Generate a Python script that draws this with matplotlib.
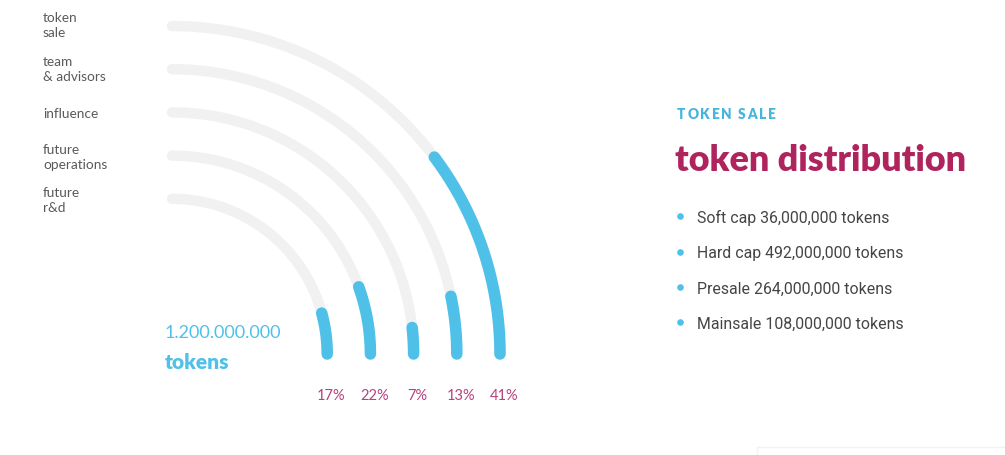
import numpy as np
import matplotlib
matplotlib.use("Agg")
import matplotlib.pyplot as plt

# ---- data ----
categories = ["token\nsale", "team\n& advisors", "influence", "future\noperations", "future\nr&d"]
percentages = [41, 13, 7, 22, 17]          # outer -> inner
total_supply = "1.200.000.000"
total_unit = "tokens"
heading_small = "TOKEN SALE"
heading_big = "token distribution"
bullets = ["Soft cap 36,000,000 tokens",
           "Hard cap 492,000,000 tokens",
           "Presale 264,000,000 tokens",
           "Mainsale 108,000,000 tokens"]

# ---- style ----
BLUE = "#4fc1e9"
GRAY = "#f1f1f1"
MAGENTA = "#b0245e"
PCT_COL = "#b8407e"
LABEL_COL = "#5a5a5a"
TEXT_COL = "#454545"

W, H = 1005, 456
fig = plt.figure(figsize=(W / 100, H / 100), dpi=100)
ax = fig.add_axes([0, 0, 1, 1])
ax.set_xlim(0, W)
ax.set_ylim(H, 0)
ax.axis("off")

cx, cy = 172, 355
r_outer, step = 328, 43.2
radii = [r_outer - i * step for i in range(len(percentages))]

for r, p in zip(radii, percentages):
    th = np.linspace(0, np.pi / 2, 200)
    ax.plot(cx + r * np.cos(th), cy - r * np.sin(th), color=GRAY, lw=7.5,
            solid_capstyle="round", zorder=1)
    tb = np.linspace(0, np.pi / 2 * p / 100, 100)
    ax.plot(cx + r * np.cos(tb), cy - r * np.sin(tb), color=BLUE, lw=8.3,
            solid_capstyle="round", zorder=2)

# percentage labels under arc ends
for r, p in zip(radii, percentages):
    ax.text(cx + r + 4, 396, f"{p}%", color=PCT_COL, fontsize=10.5,
            family="Lato", ha="center", va="center")

# left category labels
label_y = [12, 56, 108, 144, 187]
for lab, y in zip(categories, label_y):
    ax.text(43, y, lab, color=LABEL_COL, fontsize=9.8, family="Lato",
            ha="left", va="top", linespacing=1.3)

# centre total
ax.text(165, 333, total_supply, color=BLUE, fontsize=13, family="Lato",
        ha="left", va="center")
ax.text(165, 363, total_unit, color=BLUE, fontsize=15, family="Lato",
        fontweight="heavy", ha="left", va="center")

# right side text
fig.canvas.draw()
renderer = fig.canvas.get_renderer()
x = 677
for ch in heading_small:
    t = ax.text(x, 115, ch, color="#45b5dd", fontsize=9.8, family="Lato",
                fontweight="heavy", ha="left", va="center")
    bb = t.get_window_extent(renderer)
    x += bb.width + 1.8 if ch != " " else 4.5

ax.text(675, 161, heading_big, color=MAGENTA, fontsize=25.8, family="Lato",
        fontweight="heavy", ha="left", va="center")

bullet_y = [217, 253, 288, 323]
for txt, y in zip(bullets, bullet_y):
    ax.scatter([680], [y], s=14, color=BLUE, zorder=3)
    ax.text(697, y + 1, txt, color=TEXT_COL, fontsize=11.4, family="Roboto",
            ha="left", va="center")

# faint box in the corner
ax.plot([757, 757, W], [H, 448, 448], color="#f2f2f2", lw=1)

fig.savefig("out.png", dpi=100, facecolor="white")
